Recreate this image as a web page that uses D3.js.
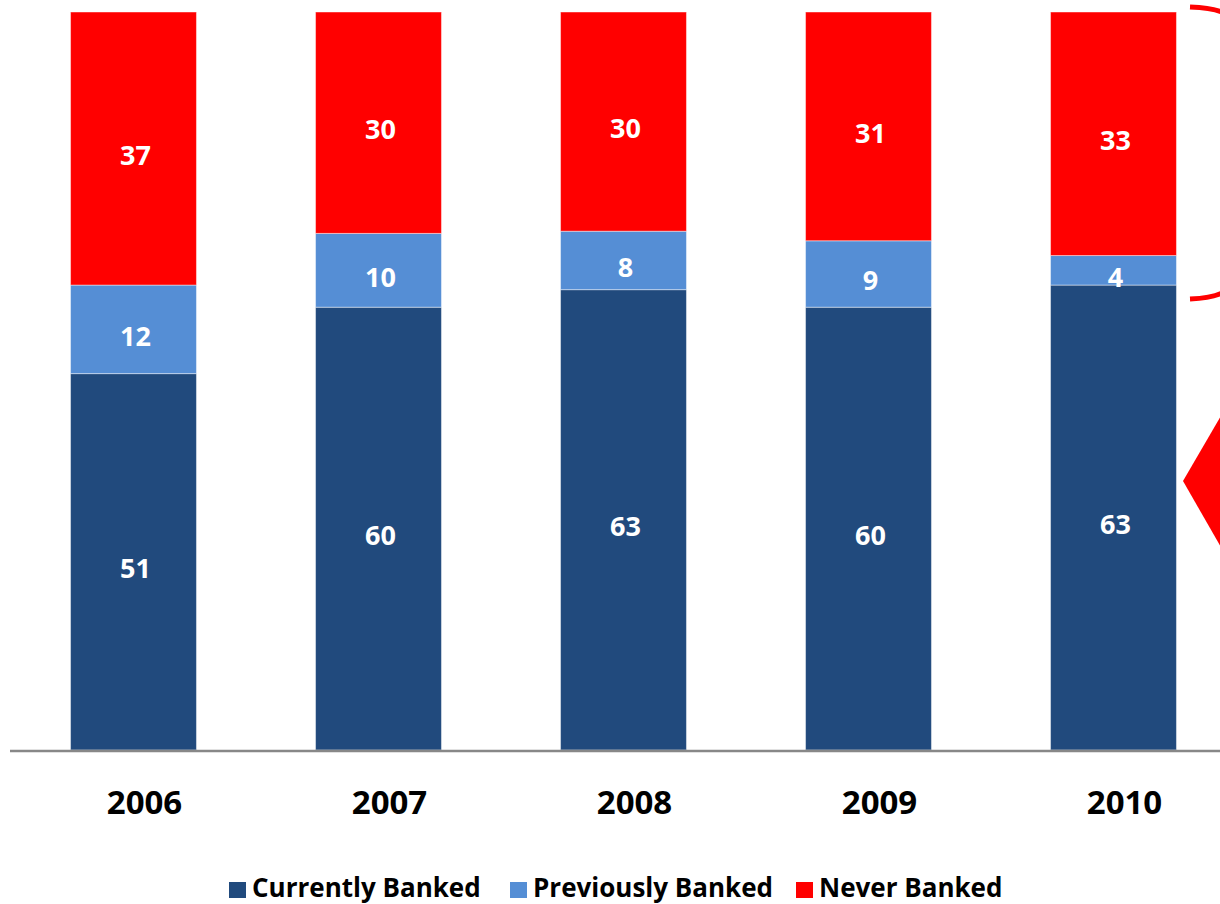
<!DOCTYPE html>
<html><head><meta charset="utf-8">
<script src="https://cdn.jsdelivr.net/npm/d3@7"></script>
<style>
html,body{margin:0;padding:0;background:#fff;}
svg{display:block;font-family:"Open Sans", Lato, sans-serif;}
</style></head>
<body>
<svg id="chart" width="1220" height="904"></svg>
<script>
const years = ["2006","2007","2008","2009","2010"];
const seriesNames = ["Currently Banked","Previously Banked","Never Banked"];
const currentlyBanked = [51,60,63,60,63];
const previouslyBanked = [12,10,8,9,4];
const neverBanked = [37,30,30,31,33];
const colors = ["#214A7D","#558ED5","#FF0000"];

const svg = d3.select("#chart");
const keys = ["c","p","n"];
const rows = years.map((y,i)=>({year:y,c:currentlyBanked[i],p:previouslyBanked[i],n:neverBanked[i]}));
const stack = d3.stack().keys(keys).offset(d3.stackOffsetExpand);
const layers = stack(rows);

const x = d3.scaleBand().domain(years).range([11,1236]).paddingInner(0.486).paddingOuter(0.243);
const y = d3.scaleLinear().domain([0,1]).range([750,12]);

const g = svg.append("g");
layers.forEach((layer,li)=>{
  const lg = g.append("g");
  lg.selectAll("rect").data(layer).join("rect")
    .attr("x",d=>x(d.data.year))
    .attr("width",x.bandwidth())
    .attr("y",d=>y(d[1]))
    .attr("height",d=>y(d[0])-y(d[1]))
    .attr("fill",colors[li])
    .attr("stroke","rgba(255,255,255,0.45)")
    .attr("stroke-width",1);
  lg.selectAll("text").data(layer).join("text")
    .attr("x",d=>x(d.data.year)+x.bandwidth()/2+2)
    .attr("y",d=>(y(d[0])+y(d[1]))/2+6)
    .attr("text-anchor","middle")
    .attr("dominant-baseline","central")
    .attr("fill","#fff")
    .attr("font-weight","bold")
    .attr("font-size",27)
    .text(d=>d.data[keys[li]]);
});

// axis
const axis = svg.append("g").attr("transform","translate(0,751)")
  .call(d3.axisBottom(x).tickSize(0).tickPadding(40));
axis.select(".domain").attr("stroke","#888").attr("stroke-width",2.5).attr("d","M10,0H1220");
axis.selectAll("text").attr("font-size",33).attr("font-weight","bold").attr("fill","#000")
  .attr("dx",11)
  .attr("font-family","'Open Sans', Lato, sans-serif");

// legend
const legendX = [229,510,796];
const lg = svg.append("g");
seriesNames.forEach((s,i)=>{
  lg.append("rect").attr("x",legendX[i]).attr("y",882).attr("width",17).attr("height",16).attr("fill",colors[i]);
  lg.append("text").attr("x",legendX[i]+23).attr("y",897).attr("font-size",26).attr("font-weight","bold")
    .attr("fill","#000").text(s);
});

// annotations on the right
svg.append("path").attr("d","M1190,7 Q1212,8 1222,12").attr("fill","none").attr("stroke","#FF0000").attr("stroke-width",5);
svg.append("path").attr("d","M1190,299 Q1212,298 1222,293").attr("fill","none").attr("stroke","#FF0000").attr("stroke-width",5);
svg.append("path").attr("d","M1183,481 L1222,414 L1222,549 Z").attr("fill","#FF0000");
</script>
</body></html>
